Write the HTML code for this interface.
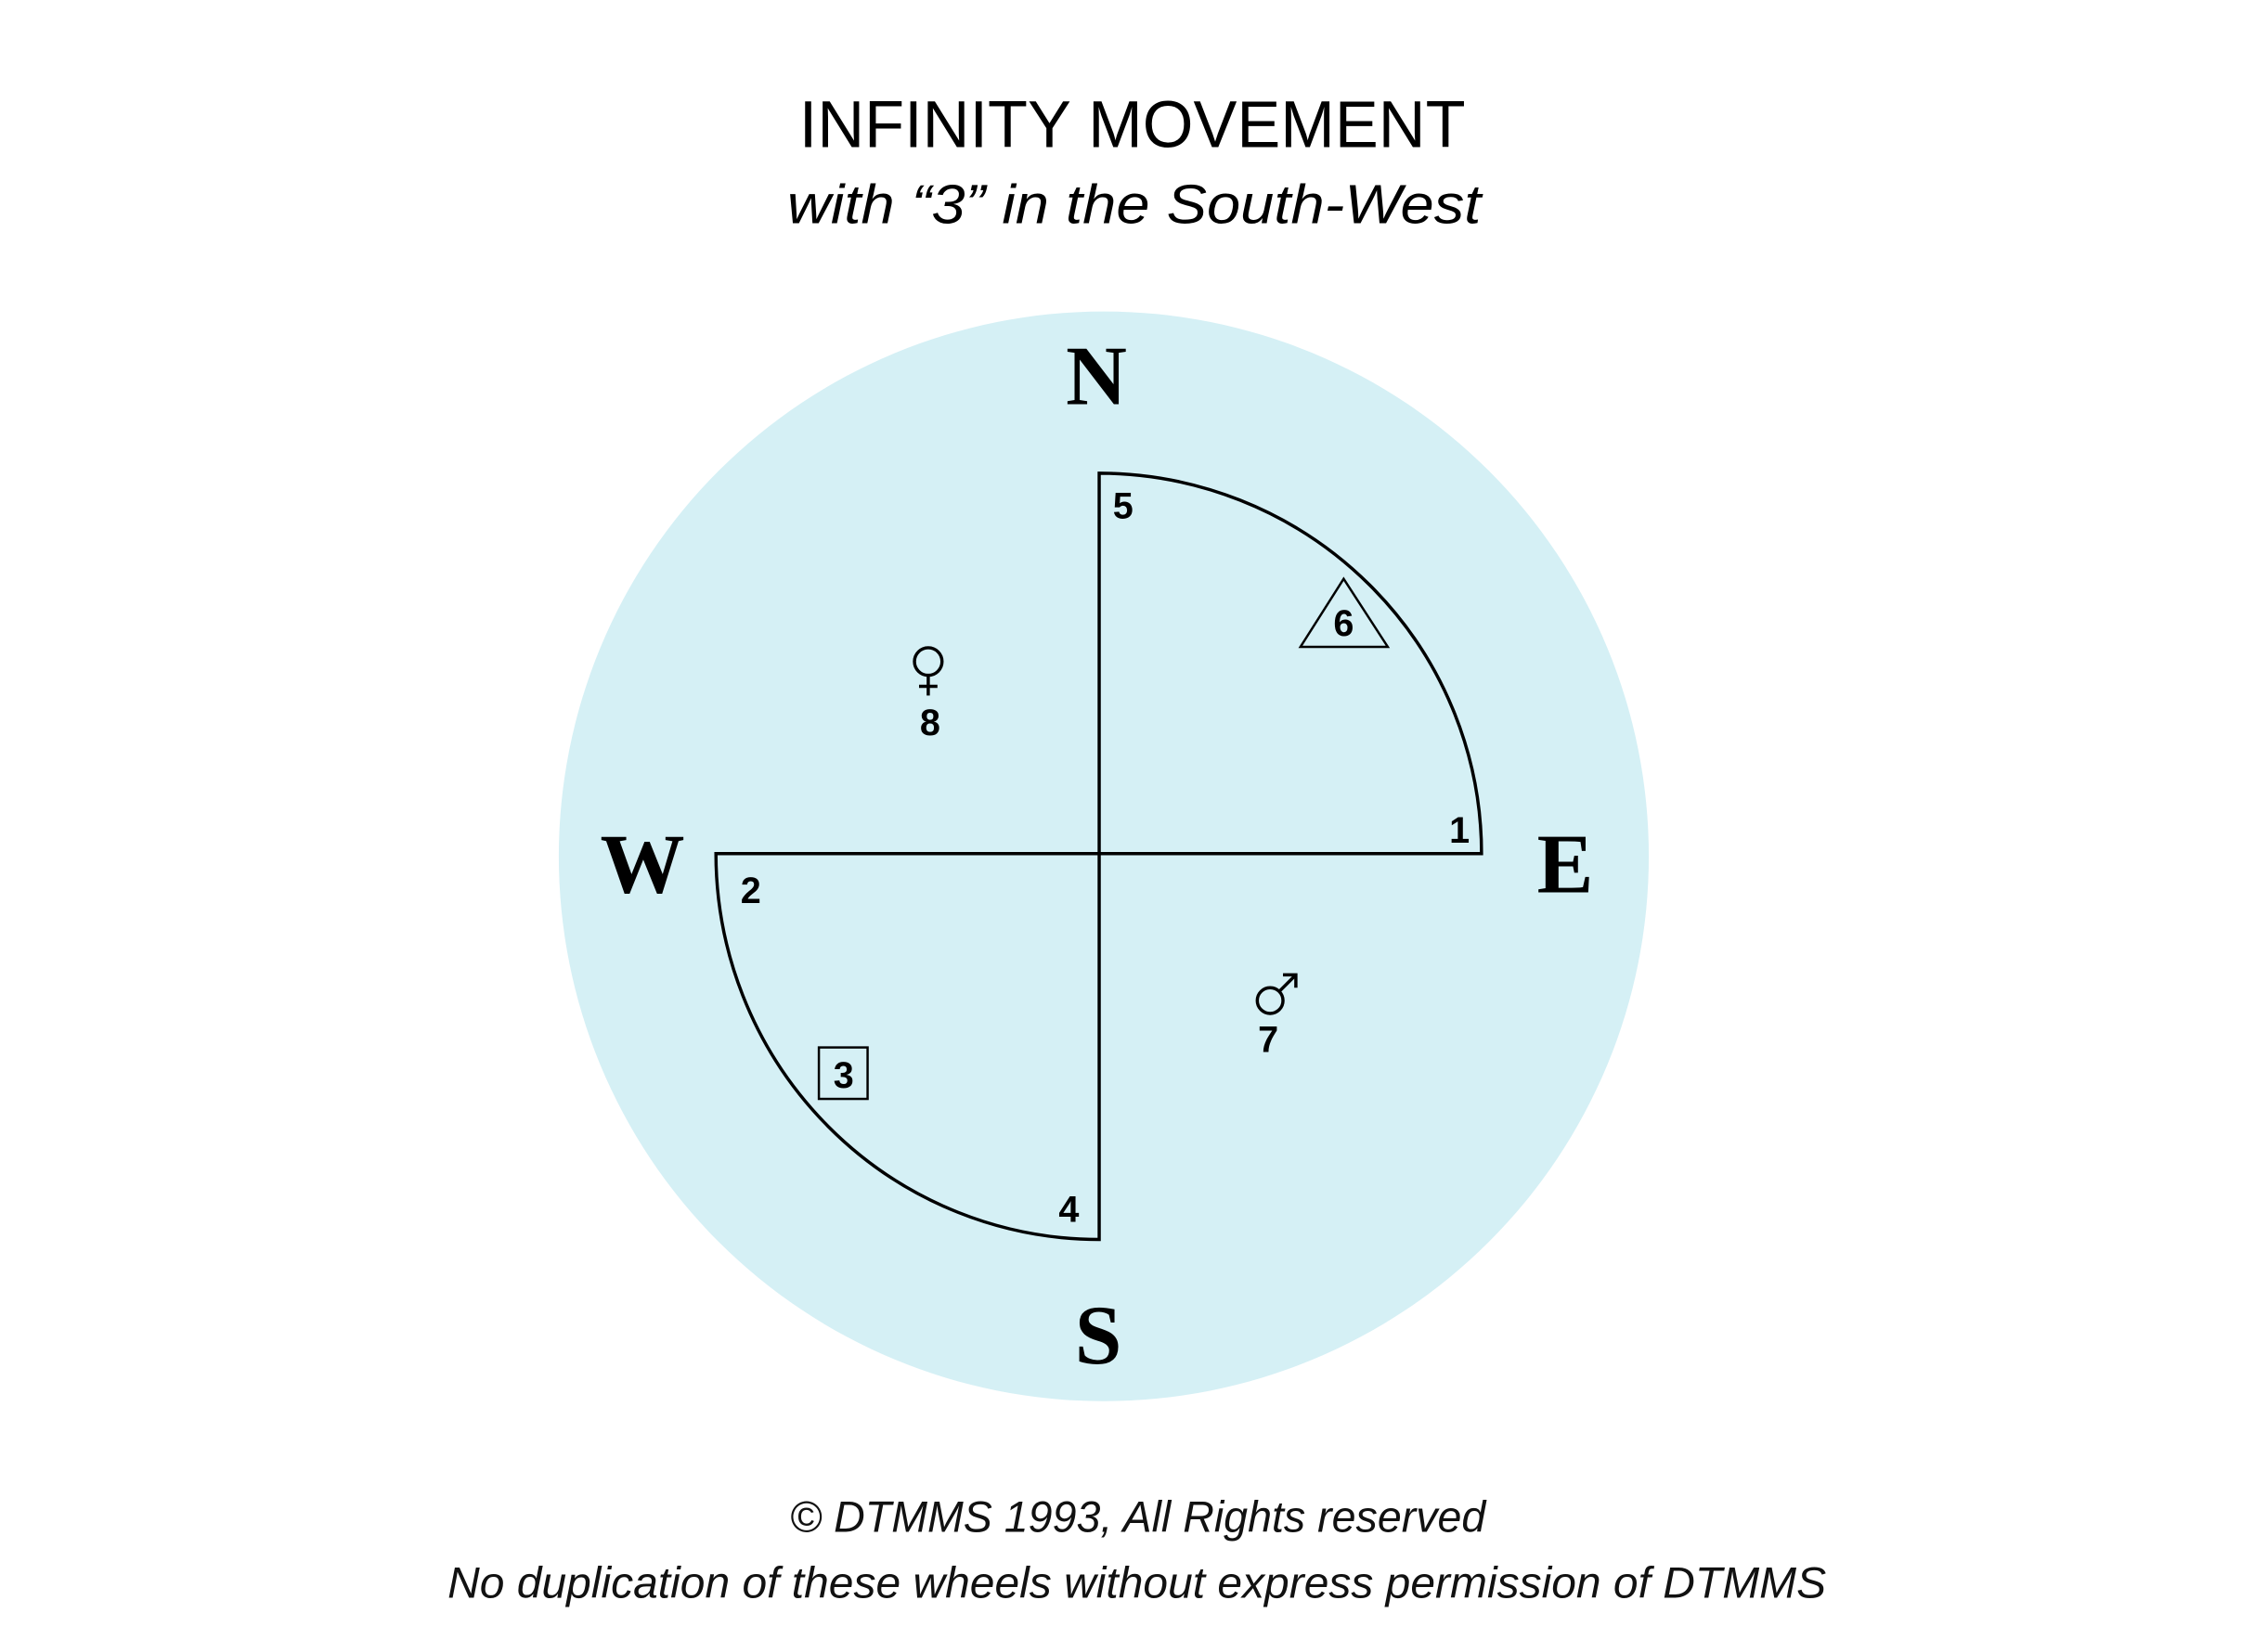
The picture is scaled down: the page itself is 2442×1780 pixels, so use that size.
<!DOCTYPE html>
<html><head><meta charset="utf-8"><style>
html,body{margin:0;padding:0;background:#fff;}
svg{display:block;}
</style></head><body>
<svg width="2442" height="1780" viewBox="0 0 2442 1780" xmlns="http://www.w3.org/2000/svg">
<rect width="2442" height="1780" fill="#fff"/>
<g transform="scale(0.99)">
<text x="1232" y="160" text-anchor="middle" font-family="Liberation Sans, sans-serif" font-size="72" textLength="725" lengthAdjust="spacingAndGlyphs" fill="#000">INFINITY MOVEMENT</text>
<text x="1234" y="243" text-anchor="middle" font-family="Liberation Sans, sans-serif" font-style="italic" font-size="60" textLength="755" lengthAdjust="spacingAndGlyphs" fill="#000">with “3” in the South-West</text>
<circle cx="1201" cy="932" r="593" fill="#d5f0f5"/>
<g fill="none" stroke="#000" stroke-width="3.5">
<path d="M1196 929 L1196 515 A417 414 0 0 1 1612 929 Z"/>
<path d="M1196 929 L779 929 A417 420 0 0 0 1196 1349 Z"/>
<polygon points="1462,630 1415,704 1510,704" stroke-width="2.5"/>
<rect x="891" y="1140" width="53" height="56" stroke-width="2.5"/>
</g>
<g font-family="Liberation Serif, serif" font-weight="bold" font-size="92" text-anchor="middle" fill="#000">
<text x="1193" y="440">N</text>
<text x="1703" y="971">E</text>
<text x="699" y="971">W</text>
<text x="1195" y="1484">S</text>
</g>
<g font-family="Liberation Sans, sans-serif" font-weight="bold" font-size="40" text-anchor="middle" fill="#000">
<text x="1222" y="564">5</text>
<text x="1462" y="692">6</text>
<text x="1588" y="917">1</text>
<text x="817" y="983">2</text>
<text x="918" y="1184">3</text>
<text x="1163" y="1330">4</text>
<text x="1012" y="800">8</text>
<text x="1380" y="1145">7</text>
</g>
<g fill="none" stroke="#000" stroke-width="3.5">
<circle cx="1010" cy="720" r="15"/>
<line x1="1010" y1="735" x2="1010" y2="757"/>
<line x1="1000" y1="747" x2="1020" y2="747"/>
<circle cx="1382" cy="1089" r="14"/>
<line x1="1392" y1="1079" x2="1410" y2="1061"/>
<polyline points="1396,1061 1410,1061 1410,1075"/>
</g>
<text x="1238" y="1667" text-anchor="middle" font-family="Liberation Sans, sans-serif" font-style="italic" font-size="48" textLength="757" lengthAdjust="spacingAndGlyphs" fill="#111">© DTMMS 1993, All Rights reserved</text>
<text x="1237" y="1739" text-anchor="middle" font-family="Liberation Sans, sans-serif" font-style="italic" font-size="48" textLength="1500" lengthAdjust="spacingAndGlyphs" fill="#111">No duplication of these wheels without express permission of DTMMS</text>
</g>
</svg>
</body></html>
